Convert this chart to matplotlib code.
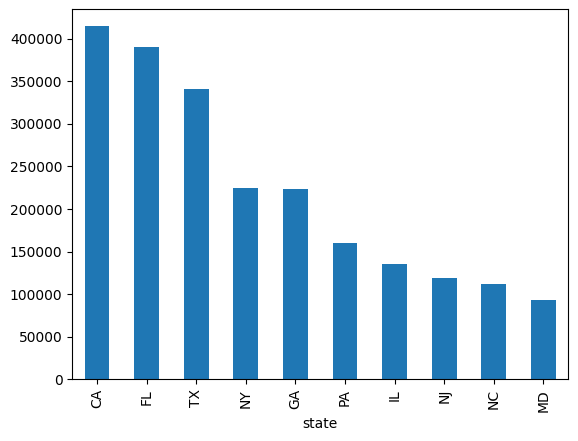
import matplotlib
matplotlib.use("Agg")
import matplotlib.pyplot as plt
import pandas as pd

states = ["CA", "FL", "TX", "NY", "GA", "PA", "IL", "NJ", "NC", "MD"]
counts = [414500, 389800, 341600, 225200, 224000, 160500, 135800, 119300, 112300, 93500]

s = pd.Series(counts, index=pd.Index(states, name="state"))

fig, ax = plt.subplots(figsize=(5.78, 4.41), dpi=100)
s.plot.bar(ax=ax)
fig.subplots_adjust(left=0.125, right=0.983, top=0.98, bottom=0.14)
fig.savefig("out.png")
